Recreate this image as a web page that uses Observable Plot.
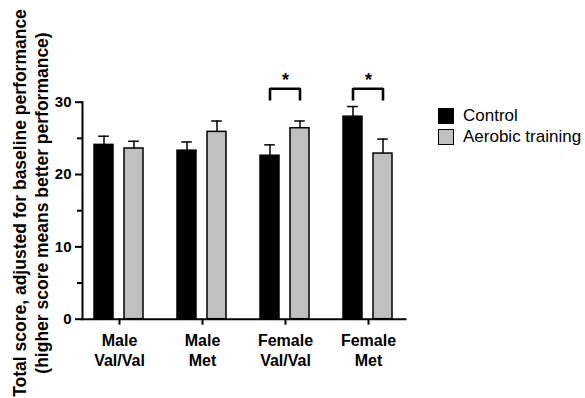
<!DOCTYPE html>
<html>
<head>
<meta charset="utf-8">
<script src="https://cdn.jsdelivr.net/npm/d3@7"></script>
<script src="https://cdn.jsdelivr.net/npm/@observablehq/plot@0.6"></script>
<style>
  html, body { margin: 0; padding: 0; background: #fff; }
  #wrap { position: relative; width: 585px; height: 398px; font-family: "Liberation Sans", Arial, sans-serif; }
  #chart { position: absolute; left: 0; top: 0; }
  #ytitle { position: absolute; left: 31px; top: 203px; transform: translate(-50%, -50%) rotate(-90deg);
            white-space: nowrap; text-align: center; font-weight: bold; font-size: 17.5px; line-height: 22px; color: #000; }
  #legend { position: absolute; left: 438px; top: 108px; font-size: 17px; color: #000; }
  .sw { display: flex; align-items: center; height: 16px; margin-bottom: 5px; }
  .sw i { display: inline-block; width: 14px; height: 14px; border: 1.5px solid #000; margin-right: 9px; }
</style>
</head>
<body>
<div id="wrap">
  <div id="chart"></div>
  <div id="ytitle"></div>
  <div id="legend"></div>
</div>
<script>
// ---- data ----
const groups = ["Male Val/Val", "Male Met", "Female Val/Val", "Female Met"];
const groupLabels = ["Male\nVal/Val", "Male\nMet", "Female\nVal/Val", "Female\nMet"];
const series = ["Control", "Aerobic training"];
const seriesColors = ["#000000", "#c0c0c0"];
const controlMean = [24.1, 23.3, 22.6, 28.0];
const controlErr = [1.2, 1.2, 1.5, 1.4];
const aerobicMean = [23.6, 25.9, 26.4, 22.9];
const aerobicErr = [1.0, 1.5, 1.0, 2.0];
const significantGroups = ["Female Val/Val", "Female Met"];
const bracketBase = 30.4;
const bracketTop = 31.85;
const starLevel = 33.0;
const yMajorTicks = [0, 10, 20, 30];
const yMinorTicks = [5, 15, 25];
const yTitleLines = ["Total score, adjusted for baseline performance", "(higher score means better performance)"];

// ---- build tables ----
const rows = [];
groups.forEach((g, i) => {
  rows.push({group: g, series: series[0], mean: controlMean[i], err: controlErr[i]});
  rows.push({group: g, series: series[1], mean: aerobicMean[i], err: aerobicErr[i]});
});
const bracketPts = [];
significantGroups.forEach(g => {
  bracketPts.push({group: g, series: series[0], y: bracketBase});
  bracketPts.push({group: g, series: series[0], y: bracketTop});
  bracketPts.push({group: g, series: series[1], y: bracketTop});
  bracketPts.push({group: g, series: series[1], y: bracketBase});
});

const font = "Liberation Sans, Arial, sans-serif";
const plot = Plot.plot({
  width: 585,
  height: 398,
  marginLeft: 81,
  marginRight: 178,
  marginTop: 101.7,
  marginBottom: 79.3,
  style: {fontFamily: font, background: "white", color: "black"},
  fx: {domain: groups, paddingInner: 0.107, paddingOuter: 0, axis: null},
  x: {domain: series, paddingInner: 0.351, paddingOuter: 0.37, axis: null},
  y: {domain: [0, 30], axis: null},
  color: {domain: series, range: seriesColors},
  marks: [
    Plot.barY(rows, {fx: "group", x: "series", y: "mean", fill: "series", stroke: "black", strokeWidth: 1.5}),
    Plot.ruleX(rows, {fx: "group", x: "series", y1: "mean", y2: d => d.mean + d.err, stroke: "black", strokeWidth: 1.5}),
    Plot.tickY(rows, {fx: "group", x: "series", y: d => d.mean + d.err, stroke: "black", strokeWidth: 1.5, insetLeft: 4.2, insetRight: 4.2}),
    Plot.line(bracketPts, {fx: "group", x: "series", y: "y", z: "group", stroke: "black", strokeWidth: 2.6, strokeLinejoin: "miter", strokeLinecap: "square"}),
    Plot.text(significantGroups, {fx: d => d, y: () => starLevel, text: () => "*", fontSize: 18, fontWeight: "bold", fill: "black"}),
    Plot.axisFx({domain: groups, anchor: "bottom", tickSize: 6, tickPadding: 7, strokeWidth: 2,
      tickFormat: g => groupLabels[groups.indexOf(g)], fontSize: 16, fontWeight: "bold", lineHeight: 1.25, label: null}),
    Plot.axisY({ticks: yMajorTicks, tickSize: 7, tickPadding: 4, strokeWidth: 2, fontSize: 15, fontWeight: "bold", label: null}),
    Plot.axisY({ticks: yMinorTicks, tickSize: 5, strokeWidth: 2, tickFormat: () => "", label: null}),
    Plot.frame({anchor: "bottom", stroke: "black", strokeWidth: 2, facet: "super"}),
    Plot.frame({anchor: "left", stroke: "black", strokeWidth: 2, facet: "super"})
  ]
});
document.getElementById("chart").appendChild(plot);

// make all chart text bold black; y tick labels at 15px
d3.select(plot).selectAll("text")
  .style("font-weight", "bold")
  .style("fill", "#000")
  .each(function () {
    const t = this.textContent.trim();
    if (yMajorTicks.map(String).includes(t)) d3.select(this).style("font-size", "15px");
  });

// y title
const yt = document.getElementById("ytitle");
yTitleLines.forEach(t => { const d = document.createElement("div"); d.textContent = t; yt.appendChild(d); });

// legend
const lg = document.getElementById("legend");
series.forEach((s, i) => {
  const row = document.createElement("div");
  row.className = "sw";
  const sw = document.createElement("i");
  sw.style.background = seriesColors[i];
  row.appendChild(sw);
  row.appendChild(document.createTextNode(s));
  lg.appendChild(row);
});
</script>
</body>
</html>
